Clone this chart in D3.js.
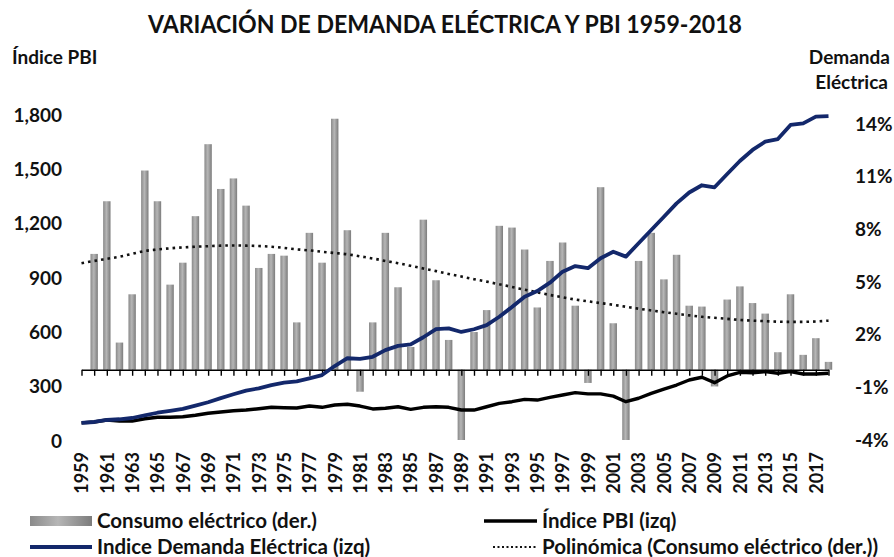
<!DOCTYPE html>
<html>
    <head>
        <meta charset="utf-8">
        <script src="https://d3js.org/d3.v7.min.js"></script>
        <style>
            body { margin: 0; background: #fff; }
            text { font-family: Lato, 'Open Sans', sans-serif; font-weight: bold; fill: #111; }
        </style>
    </head>

    <body>
        <div id="target"></div>

        <script>
            // categorias (años)
            var years = d3.range(1959, 2019);

            // Consumo eléctrico, variación anual % (eje der.) - 1959 sin dato
            var consumo = [null, 6.6, 9.6, 1.55, 4.3, 11.35, 9.6, 4.85, 6.1, 8.75,
                12.85, 10.3, 10.9, 9.35, 5.8, 6.6, 6.5, 2.7, 7.8, 6.1,
                14.3, 7.95, -1.25, 2.7, 7.8, 4.7, 1.3, 8.55, 5.1, 1.7,
                -4.0, 2.15, 3.4, 8.2, 8.1, 6.85, 3.55, 6.2, 7.25, 3.65,
                -0.75, 10.4, 2.65, -4.0, 6.2, 7.8, 5.15, 6.55, 3.65, 3.6,
                -0.95, 4.0, 4.75, 3.8, 3.2, 1.0, 4.3, 0.85, 1.8, 0.45];

            // Índice PBI (eje izq.)
            var indicePBI = [100, 105, 116, 110, 110, 123, 131, 131, 134, 142,
                153, 160, 167, 171, 178, 186, 184, 182, 193, 186,
                199, 203, 193, 177, 181, 189, 175, 186, 189, 186,
                171, 171, 189, 208, 217, 230, 226, 241, 254, 267,
                260, 260, 248, 217, 236, 263, 287, 309, 337, 352,
                322, 359, 379, 377, 383, 374, 383, 370, 370, 374];

            // Índice Demanda Eléctrica (eje izq.)
            var indiceDemanda = [100, 105, 116, 120, 127, 142, 156, 167, 177, 195,
                214, 237, 258, 278, 291, 309, 322, 329, 346, 364,
                414, 457, 453, 465, 502, 525, 534, 573, 618, 622,
                602, 617, 640, 686, 740, 797, 828, 874, 935, 966,
                954, 1009, 1045, 1018, 1092, 1165, 1238, 1312, 1372, 1412,
                1401, 1474, 1546, 1607, 1653, 1667, 1745, 1754, 1791, 1794];

            // Polinómica (Consumo eléctrico (der.))
            var tendencia = [6.07, 6.2, 6.32, 6.44, 6.6, 6.77, 6.85, 6.92, 6.97, 7.01,
                7.04, 7.07, 7.08, 7.07, 7.05, 7.01, 6.94, 6.86, 6.8, 6.72,
                6.65, 6.58, 6.46, 6.34, 6.2, 6.07, 5.92, 5.77, 5.62, 5.46,
                5.31, 5.16, 5.02, 4.87, 4.72, 4.56, 4.41, 4.26, 4.13, 4.0,
                3.9, 3.8, 3.7, 3.59, 3.48, 3.38, 3.28, 3.19, 3.1, 3.02,
                2.96, 2.9, 2.84, 2.8, 2.77, 2.74, 2.73, 2.73, 2.75, 2.8];

            var leftTicks = [0, 300, 600, 900, 1200, 1500, 1800];
            var rightTicks = [-4, -1, 2, 5, 8, 11, 14];
            var labelYears = years.filter(function(d, i){ return i % 2 === 0; });

            var W = 894, H = 557;
            var svg = d3.select('#target')
                        .append('svg')
                        .attr('width', W)
                        .attr('height', H);

            var defs = svg.append('defs');
            var grad = defs.append('linearGradient').attr('id', 'barGrad')
                .attr('x1', '0').attr('x2', '1').attr('y1', '0').attr('y2', '0');
            grad.append('stop').attr('offset', '0%').attr('stop-color', '#8a8a8a');
            grad.append('stop').attr('offset', '45%').attr('stop-color', '#b6b6b6');
            grad.append('stop').attr('offset', '100%').attr('stop-color', '#7c7c7c');

            var x = d3.scalePoint().domain(years).range([81.5, 828.5]);
            var yL = d3.scaleLinear().domain([0, 1800]).range([441, 115]);
            var yR = d3.scaleLinear().domain([-4, 14]).range([440, 124]);
            var barW = 7.4;

            // titulo
            svg.append('text')
                .attr('x', 148).attr('y', 33)
                .attr('textLength', 594)
                .attr('lengthAdjust', 'spacingAndGlyphs')
                .style('font-size', '25px')
                .text('VARIACIÓN DE DEMANDA ELÉCTRICA Y PBI 1959-2018');

            svg.append('text').attr('x', 12).attr('y', 64)
                .style('font-size', '19px').text('Índice PBI');
            svg.append('text').attr('x', 890).attr('y', 64).attr('text-anchor', 'end')
                .style('font-size', '19px').text('Demanda');
            svg.append('text').attr('x', 888).attr('y', 89).attr('text-anchor', 'end')
                .style('font-size', '19px').text('Eléctrica');

            // barras
            var bars = years.map(function(d, i){ return {year: d, v: consumo[i]}; })
                            .filter(function(d){ return d.v !== null; });
            svg.append('g').selectAll('rect')
                .data(bars)
                .enter()
                .append('rect')
                .attr('x', function(d){ return x(d.year) - barW / 2; })
                .attr('y', function(d){ return Math.min(yR(d.v), yR(0)); })
                .attr('width', barW)
                .attr('height', function(d){ return Math.abs(yR(d.v) - yR(0)); })
                .attr('fill', 'url(#barGrad)');

            // eje de categorias
            var xAxis = svg.append('g')
                .attr('transform', 'translate(0,' + yR(0) + ')')
                .call(d3.axisBottom(x).tickSize(6).tickSizeOuter(0).tickFormat(''));
            xAxis.selectAll('path, line').attr('stroke', '#000').attr('stroke-width', 1.4);

            var xLabels = svg.append('g')
                .attr('transform', 'translate(0,452)')
                .call(d3.axisBottom(x).tickValues(labelYears).tickSize(0));
            xLabels.select('.domain').remove();
            xLabels.selectAll('text')
                .attr('x', 0).attr('y', 0).attr('dy', '0.35em')
                .attr('transform', 'rotate(-90)')
                .style('text-anchor', 'end')
                .style('font-size', '18px')
                .style('font-family', null);

            // ejes de valores
            var left = svg.append('g')
                .attr('transform', 'translate(62,0)')
                .call(d3.axisLeft(yL).tickValues(leftTicks).tickFormat(d3.format(',')).tickSize(0).tickPadding(0));
            left.select('.domain').remove();
            left.selectAll('text').style('font-size', '19px').style('font-family', null);

            var right = svg.append('g')
                .attr('transform', 'translate(855,0)')
                .call(d3.axisRight(yR).tickValues(rightTicks).tickFormat(function(d){ return d + '%'; }).tickSize(0).tickPadding(0));
            right.select('.domain').remove();
            right.selectAll('text').style('font-size', '19px').style('font-family', null);

            // lineas
            var lineL = function(arr){
                return d3.line()
                    .x(function(d, i){ return x(years[i]); })
                    .y(function(d){ return yL(d); })(arr);
            };

            svg.append('path')
                .attr('d', d3.line().curve(d3.curveMonotoneX)
                    .x(function(d, i){ return x(years[i]); })
                    .y(function(d){ return yR(d); })(tendencia))
                .attr('fill', 'none')
                .attr('stroke', '#111')
                .attr('stroke-width', 2.6)
                .attr('stroke-dasharray', '2.6 4');

            svg.append('path')
                .attr('d', lineL(indicePBI))
                .attr('fill', 'none')
                .attr('stroke', '#000')
                .attr('stroke-width', 3.4)
                .attr('stroke-linejoin', 'round');

            svg.append('path')
                .attr('d', lineL(indiceDemanda))
                .attr('fill', 'none')
                .attr('stroke', '#13286b')
                .attr('stroke-width', 3.8)
                .attr('stroke-linejoin', 'round');

            // leyenda
            var lg = svg.append('g').style('font-size', '20.5px');
            lg.append('rect').attr('x', 30).attr('y', 516).attr('width', 62).attr('height', 10)
                .attr('fill', 'url(#barGrad)');
            lg.append('text').attr('x', 97).attr('y', 521).attr('dy', '0.35em').text('Consumo eléctrico (der.)');

            lg.append('line').attr('x1', 484).attr('x2', 537).attr('y1', 521).attr('y2', 521)
                .attr('stroke', '#000').attr('stroke-width', 3.4);
            lg.append('text').attr('x', 542).attr('y', 521).attr('dy', '0.35em').text('Índice PBI (izq)');

            lg.append('line').attr('x1', 30).attr('x2', 92).attr('y1', 547).attr('y2', 547)
                .attr('stroke', '#13286b').attr('stroke-width', 3.8);
            lg.append('text').attr('x', 97).attr('y', 547).attr('dy', '0.35em').text('Indice Demanda Eléctrica (izq)');

            lg.append('line').attr('x1', 493).attr('x2', 537).attr('y1', 547).attr('y2', 547)
                .attr('stroke', '#111').attr('stroke-width', 2).attr('stroke-dasharray', '2 2.5');
            lg.append('text').attr('x', 542).attr('y', 547).attr('dy', '0.35em').text('Polinómica (Consumo eléctrico (der.))');
        </script>
    </body>
</html>
